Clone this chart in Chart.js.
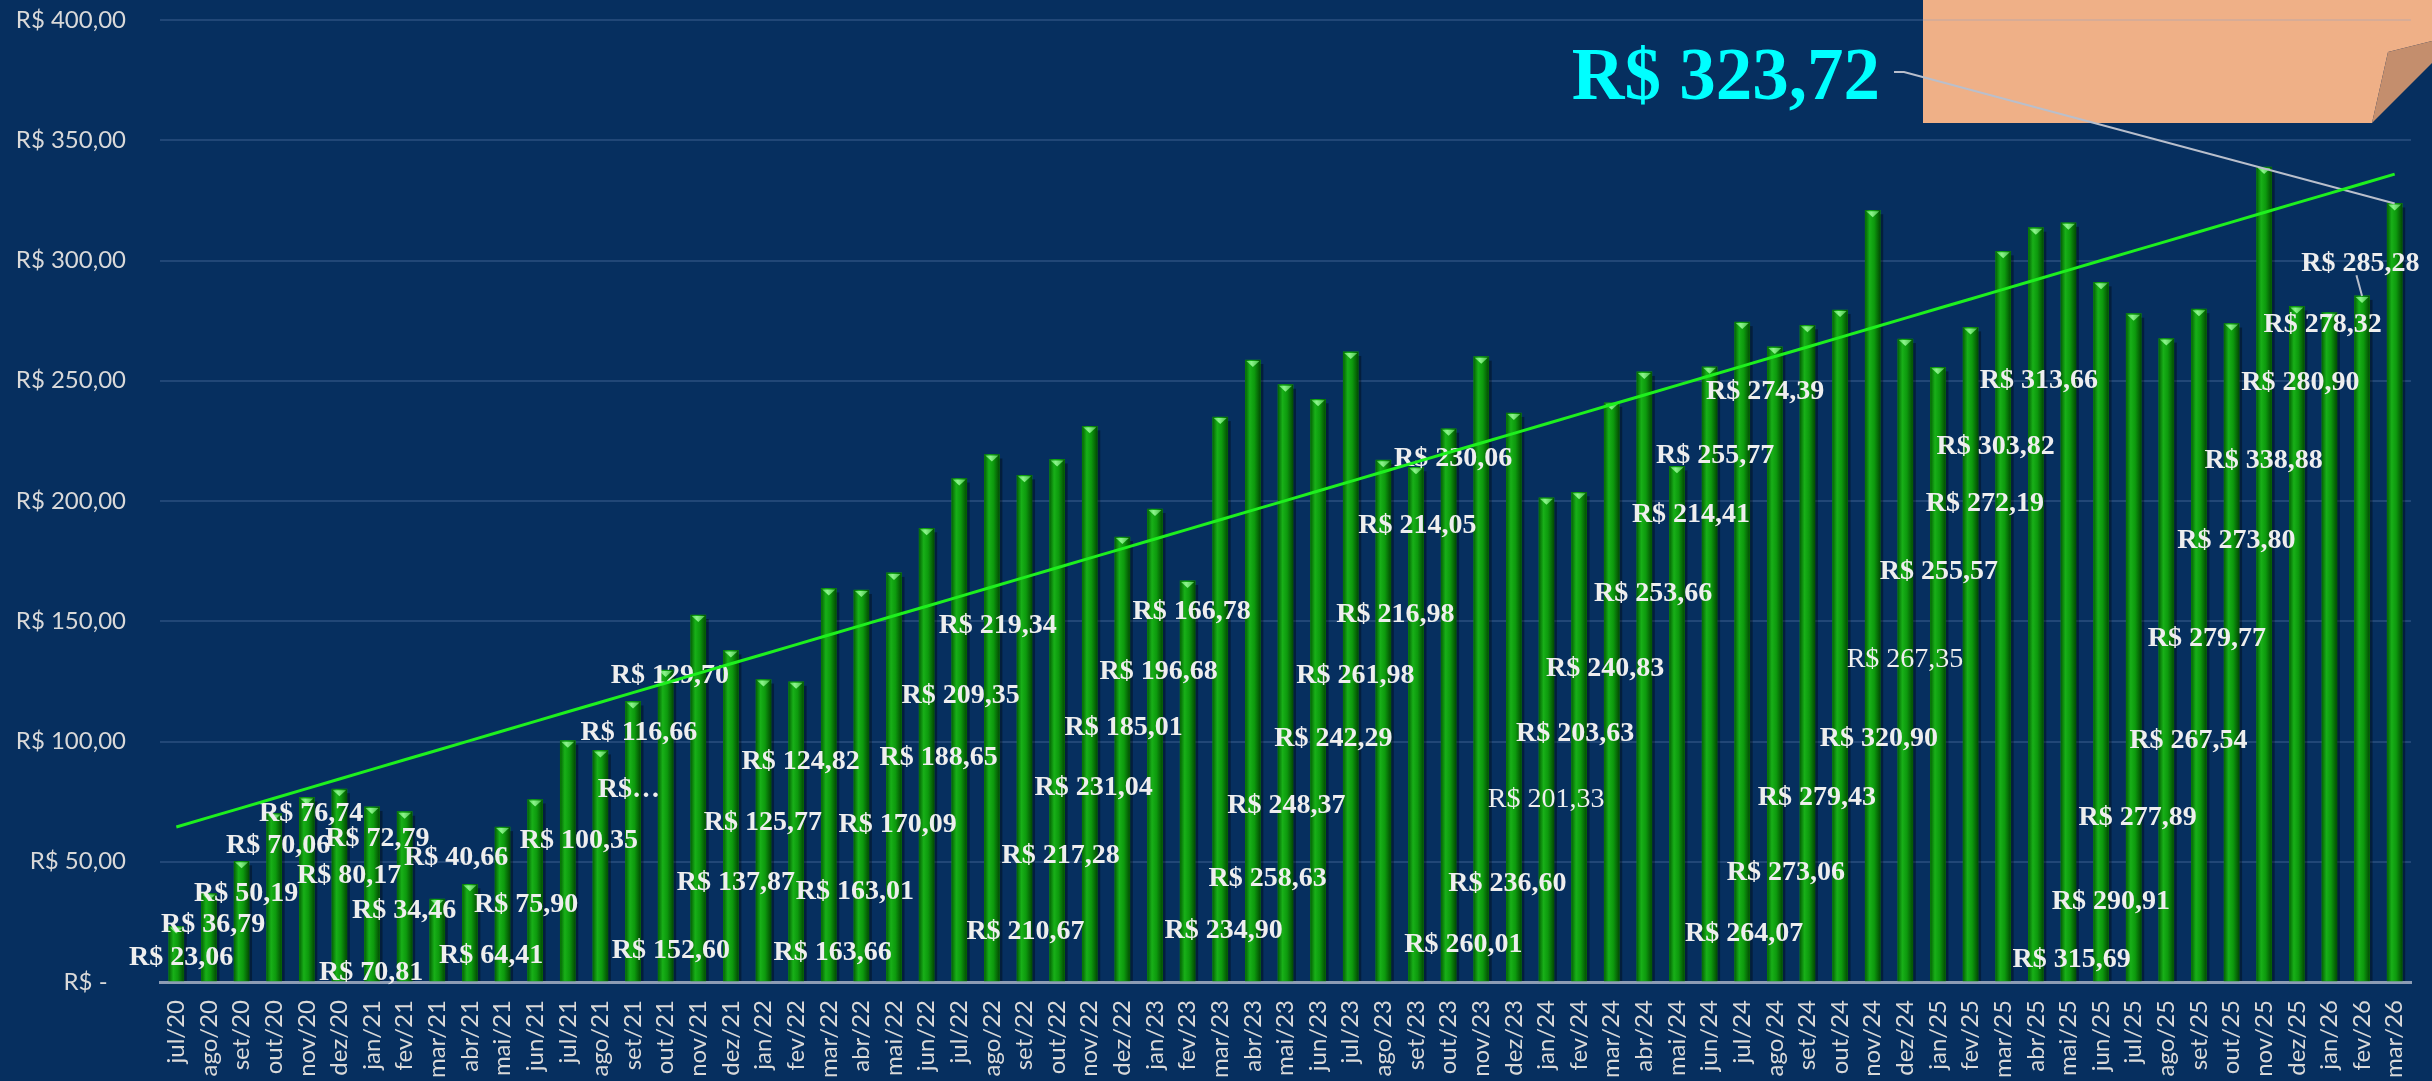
<!DOCTYPE html>
<html>
<head>
<meta charset="utf-8">
<script src="https://cdn.jsdelivr.net/npm/chart.js@4/dist/chart.umd.min.js"></script>
<style>
  html, body { margin: 0; padding: 0; background: #062f5f; overflow: hidden; }
  #wrap { width: 2432px; height: 1090px; }
</style>
</head>
<body>
<div id="wrap"><canvas id="chart" width="2432" height="1090"></canvas></div>
<script>
// meses
const categories = ['jul/20','ago/20','set/20','out/20','nov/20','dez/20',
  'jan/21','fev/21','mar/21','abr/21','mai/21','jun/21','jul/21','ago/21','set/21','out/21','nov/21','dez/21',
  'jan/22','fev/22','mar/22','abr/22','mai/22','jun/22','jul/22','ago/22','set/22','out/22','nov/22','dez/22',
  'jan/23','fev/23','mar/23','abr/23','mai/23','jun/23','jul/23','ago/23','set/23','out/23','nov/23','dez/23',
  'jan/24','fev/24','mar/24','abr/24','mai/24','jun/24','jul/24','ago/24','set/24','out/24','nov/24','dez/24',
  'jan/25','fev/25','mar/25','abr/25','mai/25','jun/25','jul/25','ago/25','set/25','out/25','nov/25','dez/25',
  'jan/26','fev/26','mar/26'];

// valores mensais (R$)
const values = [23.06, 36.79, 50.19, 70.06, 76.74, 80.17,
  72.79, 70.81, 34.46, 40.66, 64.41, 75.90, 100.35, 96.30, 116.66, 129.70, 152.60, 137.87,
  125.77, 124.82, 163.66, 163.01, 170.09, 188.65, 209.35, 219.34, 210.67, 217.28, 231.04, 185.01,
  196.68, 166.78, 234.90, 258.63, 248.37, 242.29, 261.98, 216.98, 214.05, 230.06, 260.01, 236.60,
  201.33, 203.63, 240.83, 253.66, 214.41, 255.77, 274.39, 264.07, 273.06, 279.43, 320.90, 267.35,
  255.57, 272.19, 303.82, 313.66, 315.69, 290.91, 277.89, 267.54, 279.77, 273.80, 338.88, 280.90,
  278.32, 285.28, 323.72];

// eixo y
const yTicks = [0, 50, 100, 150, 200, 250, 300, 350, 400];

// onde cada rótulo foi arrastado (deslocamento em barras, altura em R$)
const labelShift = [0.15,0.13,0.14,0.12,0.13,0.30,0.16,-1.03,-1.02,-0.42,
  -0.35,-0.28,0.34,0.87,0.18,0.13,-0.84,0.15,-0.02,0.14,
  0.12,-0.20,0.11,0.37,0.04,0.18,0.03,0.11,0.12,0.04,
  0.11,0.12,0.10,0.45,0.03,0.47,0.14,0.37,0.04,0.14,
  -0.55,-0.20,-0.01,-0.12,-0.20,0.27,0.43,0.17,0.70,-0.94,
  -0.66,-0.71,0.19,-0.01,0.03,0.44,-0.23,0.09,0.10,0.30,
  0.12,0.68,0.24,0.15,-0.02,0.11,-0.21,-0.05,-20.5];
const labelLevel = [10.9,24.6,37.5,57.6,70.8,45.0,60.5,4.75,30.6,52.6,
  11.9,33.2,59.8,80.9,104.6,128.3,14.0,42.25,67.1,92.6,
  13.1,38.5,66.5,94.2,120,148.9,21.7,53.3,81.7,106.7,
  130.1,155,22.1,43.75,74.25,101.9,128.3,153.75,190.6,218.3,
  16.25,41.8,76.9,104.2,131.25,162.5,195,219.6,246.5,20.8,
  46.25,77.5,102.2,135.1,171.5,199.6,223.5,250.9,10.2,34.2,
  69.2,101.25,143.75,184.3,217.5,250.2,274.4,299.7,377.5];

const cutLabels = { 13: 'R$\u2026' };
const plainLabels = [42, 53];

const brl = v => 'R$ ' + v.toFixed(2).replace('.', ',');

// linha de tendência (mínimos quadrados, como no Excel)
function trendOf(arr) {
  const n = arr.length;
  let sx = 0, sy = 0, sxy = 0, sxx = 0;
  arr.forEach((y, x) => { sx += x; sy += y; sxy += x * y; sxx += x * x; });
  const b = (n * sxy - sx * sy) / (n * sxx - sx * sx);
  const a = (sy - b * sx) / n;
  return arr.map((_, x) => a + b * x);
}
const trend = trendOf(values);

const SERIF = '"Liberation Serif", "Times New Roman", serif';

const backdrop = {
  id: 'backdrop',
  beforeDraw(chart) {
    const { ctx, width } = chart;
    ctx.save();
    ctx.fillStyle = '#062f5f';
    ctx.fillRect(0, 0, width, chart.height);
    // papel dobrado no canto
    ctx.fillStyle = '#efb087';
    ctx.beginPath();
    ctx.moveTo(1923, 0); ctx.lineTo(width, 0); ctx.lineTo(width, 41);
    ctx.lineTo(2388, 52); ctx.lineTo(2372, 123); ctx.lineTo(1923, 123);
    ctx.closePath(); ctx.fill();
    ctx.fillStyle = '#c48e6d';
    ctx.beginPath();
    ctx.moveTo(2388, 52); ctx.lineTo(width, 41); ctx.lineTo(width, 63); ctx.lineTo(2372, 123);
    ctx.closePath(); ctx.fill();
    ctx.restore();
  }
};

function drawLabel(ctx, chart, i, el) {
  const xs = chart.scales.x, ys = chart.scales.y;
  const step = xs.getPixelForValue(1) - xs.getPixelForValue(0);
  const cx = el.x + labelShift[i] * step;
  const cy = ys.getPixelForValue(labelLevel[i]);
  const big = i === values.length - 1;
  const size = big ? 73 : 28;
  ctx.font = (plainLabels.includes(i) ? '' : 'bold ') + size + 'px ' + SERIF;
  ctx.textAlign = 'center';
  ctx.textBaseline = 'alphabetic';
  ctx.fillStyle = big ? '#00ffff' : '#eeeeee';
  const txt = cutLabels[i] || brl(values[i]);
  ctx.fillText(txt, cx, cy + 0.338 * size);
  if (big) {
    const right = cx + ctx.measureText(txt).width / 2;
    ctx.strokeStyle = '#b9bfcc';
    ctx.lineWidth = 2;
    ctx.beginPath();
    ctx.moveTo(right + 14, cy - 2);
    ctx.lineTo(right + 24, cy - 2);
    ctx.lineTo(el.x, el.y);
    ctx.stroke();
  } else if (i === values.length - 2) {
    ctx.strokeStyle = '#b9bfcc';
    ctx.lineWidth = 2;
    ctx.beginPath();
    ctx.moveTo(cx - 4, cy + 14);
    ctx.lineTo(el.x, el.y);
    ctx.stroke();
  }
}

const columns = {
  id: 'columns',
  afterDatasetDraw(chart, args) {
    if (args.meta.type !== 'bar') return;
    const ctx = chart.ctx;
    ctx.save();
    args.meta.data.forEach(el => {
      const w = el.width, l = el.x - w / 2, r = l + w, h = el.base - el.y;
      ctx.fillStyle = 'rgba(0,0,0,0.35)';
      ctx.fillRect(r, el.y + 4, 3, h - 4);
      const g = ctx.createLinearGradient(l, 0, r, 0);
      g.addColorStop(0, '#046404');
      g.addColorStop(0.3, '#18b018');
      g.addColorStop(0.6, '#0d9a0d');
      g.addColorStop(1, '#034c03');
      ctx.fillStyle = g;
      ctx.fillRect(l, el.y, w, h);
      const t = ctx.createLinearGradient(l, 0, r, 0);
      t.addColorStop(0, '#4fcf4f');
      t.addColorStop(0.4, '#8cf58c');
      t.addColorStop(1, '#3fb83f');
      ctx.fillStyle = t;
      ctx.beginPath();
      ctx.moveTo(l + 1, el.y + 1);
      ctx.lineTo(r - 1, el.y + 1);
      ctx.lineTo(el.x, el.y + 7);
      ctx.closePath();
      ctx.fill();
    });
    args.meta.data.forEach((el, i) => drawLabel(ctx, chart, i, el));
    ctx.restore();
  }
};

Chart.defaults.font.family = 'Lato, "Open Sans", sans-serif';

new Chart(document.getElementById('chart'), {
  type: 'bar',
  data: {
    labels: categories,
    datasets: [
      { type: 'line', data: trend, borderColor: '#1ef01e', borderWidth: 3, pointRadius: 0, order: 0 },
      { type: 'bar', data: values, backgroundColor: '#0d9a0d', borderWidth: 0, barThickness: 15, order: 1 }
    ]
  },
  options: {
    responsive: false,
    animation: false,
    layout: { padding: { top: 20, right: 21, left: 0, bottom: 0 } },
    plugins: { legend: { display: false }, tooltip: { enabled: false } },
    scales: {
      x: {
        afterFit: s => { s.height = 1090 - 982; s.paddingLeft = 0; s.paddingRight = 0; },
        grid: { display: true, color: 'rgba(0,0,0,0)', drawTicks: false },
        border: { display: true, color: '#8c9cb4', width: 3 },
        ticks: { color: '#d9d9d9', font: { size: 24 }, minRotation: 90, maxRotation: 90, autoSkip: false, padding: 18 }
      },
      y: {
        min: yTicks[0],
        max: yTicks[yTicks.length - 1],
        afterFit: s => { s.width = 160; s.paddingTop = 0; s.paddingBottom = 0; },
        afterBuildTicks: s => { s.ticks = yTicks.map(v => ({ value: v })); },
        grid: { color: c => c.tick && c.tick.value === 0 ? 'rgba(0,0,0,0)' : 'rgba(130,160,205,0.22)', lineWidth: 2, drawTicks: false },
        border: { display: false },
        ticks: {
          color: '#d9d9d9', font: { size: 24 }, padding: 34,
          callback: v => v === 0 ? 'R$ -   ' : brl(v)
        }
      }
    }
  },
  plugins: [backdrop, columns]
});
</script>
</body>
</html>
